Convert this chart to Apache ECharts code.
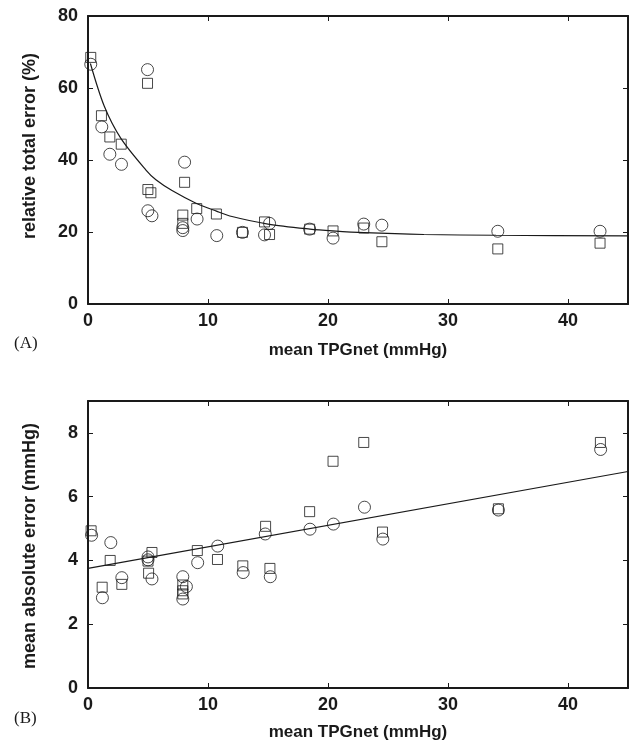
<!DOCTYPE html>
<html>
<head>
<meta charset="utf-8">
<script src="https://cdn.jsdelivr.net/npm/echarts@6/dist/echarts.min.js"></script>
<style>
html,body{margin:0;padding:0;background:#fff;}
#chart{width:632px;height:746px;}
</style>
</head>
<body>
<div id="chart"></div>
<script>
// ---- Panel A: relative total error (%) ----
const aCircleX = [0.23, 1.15, 1.82, 2.79, 4.96, 4.99, 5.33, 8.05, 7.9, 7.9, 9.09, 10.73, 12.87, 14.71, 15.13, 18.47, 20.42, 22.98, 24.49, 34.15, 42.67];
const aCircleY = [66.6, 49.2, 41.6, 38.8, 65.1, 25.9, 24.5, 39.4, 21.2, 20.4, 23.6, 19.0, 19.9, 19.2, 22.4, 20.8, 18.3, 22.2, 21.9, 20.2, 20.2];
const aSquareX = [0.23, 1.12, 1.82, 2.77, 4.96, 4.99, 5.24, 8.05, 7.9, 7.9, 9.06, 10.7, 12.87, 14.71, 15.13, 18.47, 20.42, 22.98, 24.49, 34.15, 42.67];
const aSquareY = [68.5, 52.3, 46.4, 44.4, 61.3, 31.8, 30.9, 33.8, 24.7, 22.4, 26.5, 25.0, 19.9, 22.8, 19.3, 20.8, 20.3, 21.1, 17.3, 15.3, 16.9];
const aCurveX = [0.2, 1.35, 2.74, 4.83, 5.66, 7, 9, 10.7, 12, 15, 18.5, 20.4, 23, 28, 34, 45];
const aCurveY = [66.8, 55.0, 46.0, 37.2, 34.5, 31.5, 28.0, 25.8, 24.3, 22.2, 20.8, 20.3, 19.8, 19.3, 19.1, 18.9];

// ---- Panel B: mean absolute error (mmHg) ----
const bCircleX = [0.3, 1.2, 1.9, 2.82, 5.0, 5.0, 5.33, 7.9, 8.2, 7.9, 9.14, 10.81, 12.93, 14.77, 15.19, 18.5, 20.45, 23.04, 24.57, 34.2, 42.72];
const bCircleY = [4.79, 2.83, 4.56, 3.46, 4.11, 4.02, 3.42, 3.49, 3.18, 2.79, 3.93, 4.45, 3.62, 4.83, 3.49, 4.98, 5.14, 5.67, 4.67, 5.58, 7.48];
const bSquareX = [0.26, 1.18, 1.85, 2.82, 5.33, 5.0, 5.05, 7.9, 7.9, 7.9, 9.11, 10.79, 12.9, 14.8, 15.16, 18.47, 20.42, 22.98, 24.54, 34.2, 42.7];
const bSquareY = [4.93, 3.16, 4.0, 3.25, 4.25, 3.98, 3.6, 3.23, 3.05, 2.95, 4.31, 4.03, 3.83, 5.07, 3.75, 5.53, 7.11, 7.70, 4.89, 5.62, 7.70];
const bLineX = [0, 45];
const bLineY = [3.75, 6.79];

const xTicks = [0, 10, 20, 30, 40];
const aYTicks = [0, 20, 40, 60, 80];
const bYTicks = [0, 2, 4, 6, 8];

const xName = 'mean TPGnet (mmHg)';
const aYName = 'relative total error (%)';
const bYName = 'mean absolute error (mmHg)';

function pairs(xs, ys) { return xs.map((x, i) => [x, ys[i]]); }

const INK = '#1a1a1a';
const labelFont = { fontFamily: 'Liberation Sans', fontWeight: 'bold', fontSize: 18, color: INK };
const nameFont = { fontFamily: 'Liberation Sans', fontWeight: 'bold', fontSize: 17, color: INK };

function xAxisMain(gridIndex, ticks, gap) {
  return {
    type: 'value', gridIndex, min: 0, max: 45, interval: 10, position: 'bottom',
    name: xName, nameLocation: 'middle', nameGap: gap, nameTextStyle: nameFont,
    axisLine: { show: true, onZero: false, lineStyle: { color: INK, width: 2 } },
    axisTick: { show: true, inside: true, length: 5, lineStyle: { color: INK, width: 1 } },
    axisLabel: Object.assign({ margin: 8, formatter: v => ticks.includes(v) ? String(v) : '' }, labelFont),
    splitLine: { show: false }
  };
}
function xAxisMirror(gridIndex) {
  return {
    type: 'value', gridIndex, min: 0, max: 45, interval: 10, position: 'top',
    axisLine: { show: true, onZero: false, lineStyle: { color: INK, width: 2 } },
    axisTick: { show: true, inside: true, length: 5, lineStyle: { color: INK, width: 1 } },
    axisLabel: { show: false }, splitLine: { show: false }
  };
}
function yAxisMain(gridIndex, max, interval, ticks) {
  return {
    type: 'value', gridIndex, min: 0, max, interval, position: 'left',
    axisLine: { show: true, onZero: false, lineStyle: { color: INK, width: 2 } },
    axisTick: { show: true, inside: true, length: 5, lineStyle: { color: INK, width: 1 } },
    axisLabel: Object.assign({ margin: 10, showMaxLabel: ticks.includes(max), formatter: v => ticks.includes(v) ? String(v) : '' }, labelFont),
    splitLine: { show: false }
  };
}
function yAxisMirror(gridIndex, max, interval) {
  return {
    type: 'value', gridIndex, min: 0, max, interval, position: 'right',
    axisLine: { show: true, onZero: false, lineStyle: { color: INK, width: 2 } },
    axisTick: { show: true, inside: true, length: 5, lineStyle: { color: INK, width: 1 } },
    axisLabel: { show: false }, splitLine: { show: false }
  };
}

function scatter(xi, yi, data, symbol, size) {
  return {
    type: 'scatter', xAxisIndex: xi, yAxisIndex: yi, data, symbol, symbolSize: size,
    itemStyle: { color: 'rgba(0,0,0,0)', borderColor: INK, borderWidth: 1 },
    emphasis: { disabled: true }, z: 3
  };
}

const chart = echarts.init(document.getElementById('chart'), null, { renderer: 'canvas' });
chart.setOption({
  animation: false,
  backgroundColor: '#fff',
  grid: [
    { left: 88, top: 16, width: 540, height: 288 },
    { left: 88, top: 401, width: 540, height: 287 }
  ],
  xAxis: [xAxisMain(0, xTicks, 38), xAxisMirror(0), xAxisMain(1, xTicks, 36), xAxisMirror(1)],
  yAxis: [
    yAxisMain(0, 80, 20, aYTicks), yAxisMirror(0, 80, 20),
    yAxisMain(1, 9, 2, bYTicks), yAxisMirror(1, 9, 2)
  ],
  series: [
    scatter(0, 0, pairs(aSquareX, aSquareY), 'rect', 10),
    scatter(0, 0, pairs(aCircleX, aCircleY), 'circle', 12),
    {
      type: 'line', xAxisIndex: 0, yAxisIndex: 0, data: pairs(aCurveX, aCurveY),
      symbol: 'none', smooth: 0.3,
      lineStyle: { color: INK, width: 1.2 }, z: 2
    },
    scatter(2, 2, pairs(bSquareX, bSquareY), 'rect', 10),
    scatter(2, 2, pairs(bCircleX, bCircleY), 'circle', 12),
    {
      type: 'line', xAxisIndex: 2, yAxisIndex: 2, data: pairs(bLineX, bLineY),
      symbol: 'none', lineStyle: { color: INK, width: 1.2 }, z: 2
    }
  ],
  graphic: [
    { type: 'text', x: 30, y: 146, rotation: Math.PI / 2,
      style: { text: aYName, font: 'bold 18px "Liberation Sans"', fill: INK, textAlign: 'center', textVerticalAlign: 'middle' } },
    { type: 'text', x: 30, y: 546, rotation: Math.PI / 2,
      style: { text: bYName, font: 'bold 18px "Liberation Sans"', fill: INK, textAlign: 'center', textVerticalAlign: 'middle' } },
    { type: 'text', left: 14, top: 335, style: { text: '(A)', font: '17px "Liberation Serif"', fill: INK } },
    { type: 'text', left: 14, top: 710, style: { text: '(B)', font: '17px "Liberation Serif"', fill: INK } }
  ]
});
</script>
</body>
</html>
